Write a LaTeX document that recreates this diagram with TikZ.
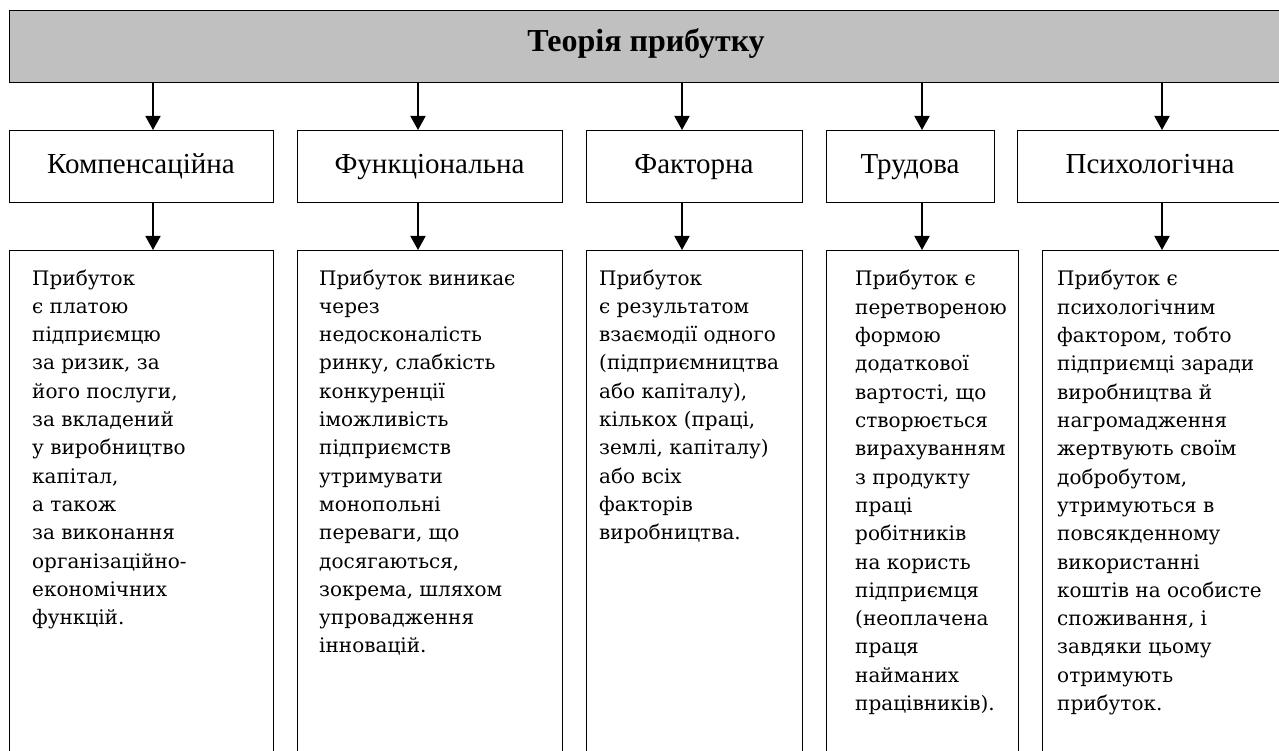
\documentclass[tikz,border=0pt]{standalone}
\usepackage{fontspec}
\setmainfont{Liberation Serif}
\newfontfamily\bodyfont{DejaVu Serif}
\usetikzlibrary{arrows.meta}
\definecolor{titlegray}{RGB}{192,192,192}
\tikzset{
  frame/.style={draw=black, line width=1.3pt, anchor=north west, inner sep=0pt},
  midbox/.style={frame, minimum height=72pt},
  lowbox/.style={frame, minimum height=520pt},
  midlabel/.style={anchor=base, inner sep=0pt, font=\fontsize{29}{33}\selectfont},
  bodytxt/.style={anchor=base west, inner sep=0pt, font=\bodyfont\fontsize{20}{28.3}\selectfont},
  arr/.style={line width=1.8pt, -{Triangle[width=15pt,length=14pt]}}
}
\newcommand\lines[1]{\begin{tabular}[t]{@{}l@{}}#1\end{tabular}}
\begin{document}
\begin{tikzpicture}[x=1pt,y=-1pt]
\useasboundingbox (0,0) rectangle (1279,751);
\clip (0,0) rectangle (1279,751);
% title
\node[frame, fill=titlegray, minimum width=1281pt, minimum height=72pt] (title) at (9,10) {};
\node[anchor=base, inner sep=0pt, font=\bfseries\fontsize{32}{36}\selectfont] (ttext) at (646,52) {Теорія прибутку};
% middle row
\node[midbox, minimum width=264pt] (m1) at (9,130) {};
\node[midbox, minimum width=265pt] (m2) at (297,130) {};
\node[midbox, minimum width=216pt] (m3) at (586,130) {};
\node[midbox, minimum width=168pt] (m4) at (826,130) {};
\node[midbox, minimum width=273pt] (m5) at (1017,130) {};
\node[midlabel] (l1) at (141,174) {Компенсаційна};
\node[midlabel] (l2) at (429.5,174) {Функціональна};
\node[midlabel] (l3) at (694,174) {Факторна};
\node[midlabel] (l4) at (910,174) {Трудова};
\node[midlabel] (l5) at (1150,174) {Психологічна};
% bottom row
\node[lowbox, minimum width=264pt] (b1) at (9,250) {};
\node[lowbox, minimum width=265pt] (b2) at (297,250) {};
\node[lowbox, minimum width=216pt] (b3) at (586,250) {};
\node[lowbox, minimum width=192pt] (b4) at (826,250) {};
\node[lowbox, minimum width=248pt] (b5) at (1042,250) {};
% arrow columns
\coordinate (c1) at (153,0);
\coordinate (c2) at (418,0);
\coordinate (c3) at (682,0);
\coordinate (c4) at (922,0);
\coordinate (c5) at (1162,0);
\foreach \i in {1,...,5}{
  \draw[arr] (c\i |- title.south) -- (c\i |- m\i.north);
  \draw[arr] (c\i |- m\i.south) -- (c\i |- b\i.north);
}
% texts
\node[bodytxt] (t1) at (32,285) {\lines{Прибуток\\ є платою\\ підприємцю\\ за ризик, за\\ його послуги,\\ за вкладений\\ у виробництво\\ капітал,\\ а також\\ за виконання\\ організаційно-\\ економічних\\ функцій.}};
\node[bodytxt] (t2) at (319,285) {\lines{Прибуток виникає\\ через\\ недосконалість\\ ринку, слабкість\\ конкуренції\\ іможливість\\ підприємств\\ утримувати\\ монопольні\\ переваги, що\\ досягаються,\\ зокрема, шляхом\\ упровадження\\ інновацій.}};
\node[bodytxt] (t3) at (599,285) {\lines{Прибуток\\ є результатом\\ взаємодії одного\\ (підприємництва\\ або капіталу),\\ кількох (праці,\\ землі, капіталу)\\ або всіх\\ факторів\\ виробництва.}};
\node[bodytxt] (t4) at (855,286) {\lines{Прибуток є\\ перетвореною\\ формою\\ додаткової\\ вартості, що\\ створюється\\ вирахуванням\\ з продукту\\ праці\\ робітників\\ на користь\\ підприємця\\ (неоплачена\\ праця\\ найманих\\ працівників).}};
\node[bodytxt] (t5) at (1057,286) {\lines{Прибуток є\\ психологічним\\ фактором, тобто\\ підприємці заради\\ виробництва й\\ нагромадження\\ жертвують своїм\\ добробутом,\\ утримуються в\\ повсякденному\\ використанні\\ коштів на особисте\\ споживання, і\\ завдяки цьому\\ отримують\\ прибуток.}};
\end{tikzpicture}
\end{document}
